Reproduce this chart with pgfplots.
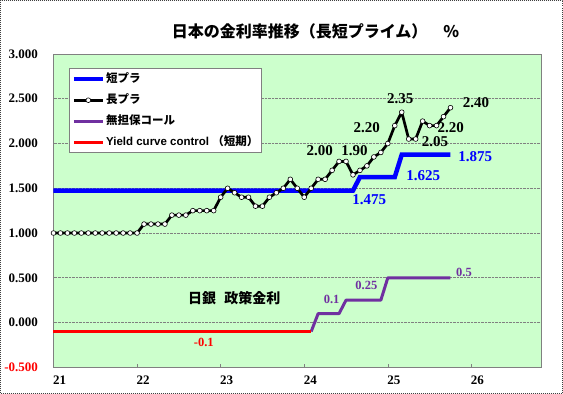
\documentclass[border=0pt]{standalone}
\usepackage{pgfplots}
\pgfplotsset{compat=1.18}
\usepackage{fontspec}
\setmainfont{Liberation Serif}
\setsansfont{Liberation Sans}
\newfontfamily\jp{Noto Sans CJK JP}
\definecolor{bgreen}{HTML}{CCFFCC}
\definecolor{purp}{HTML}{7030A0}
\definecolor{bblue}{HTML}{0000FF}
\definecolor{rred}{HTML}{FF0000}
\definecolor{axgray}{HTML}{808080}
\newcommand\fs[1]{\fontsize{#1}{#1}\selectfont}
\begin{document}
\begin{tikzpicture}[x=1pt,y=1pt]
\fill[white] (0,0) rectangle (563,394);
\draw[black!75, densely dotted, line width=1pt] (0.5,0.5) rectangle (562.5,393.5);
\node[font=\jp\bfseries\fs{16}] at (315.5,362.4) {日本の金利率推移（長短プライム）　\%};
\begin{axis}[
  at={(53.5pt,26.7pt)}, anchor=south west,
  scale only axis, width=487.5pt, height=313.3pt,
  xmin=21, xmax=26.833, ymin=-0.5, ymax=3,
  axis background/.style={fill=bgreen},
  axis line style={axgray, line width=0.8pt},
  xtick={21,22,23,24,25,26}, xticklabels={21,22,23,24,25,26},
  ytick={-0.5,0,0.5,1,1.5,2,2.5,3},
  yticklabels={\textcolor{rred}{-0.500},0.000,0.500,1.000,1.500,2.000,2.500,3.000},
  tick style={axgray, line width=0.6pt},
  major tick length=3pt,
  xtick pos=bottom, ytick pos=left,
  ymajorgrids, grid style={densely dotted, line width=0.6pt, gray},
  xticklabel style={font=\bfseries\fs{13}, anchor=north west, xshift=-4pt, yshift=-5.5pt},
  yticklabel style={font=\bfseries\fs{13}, anchor=east, xshift=-12pt},
  clip=false,
  legend style={at={(0.0324,0.954)}, anchor=north west, draw=axgray, fill=white, line width=0.6pt,
    inner xsep=2pt, inner ysep=4pt, row sep=8pt, font=\bfseries\fs{11.5},
    nodes={inner sep=1pt, text height=8.5pt, text depth=2.5pt}},
  legend cell align=left,
  legend image code/.code={\draw[mark repeat=2,mark phase=2,#1] plot coordinates {(0pt,0pt) (14.5pt,0pt) (29pt,0pt)};},
]
\addplot[bblue, line width=4.5pt] coordinates {
(21.0000,1.475) (24.5833,1.475) (24.6667,1.625) (25.0833,1.625) (25.1667,1.875) (25.7500,1.875)};
\addlegendentry{\jp 短プラ}
\addplot[black, line width=2.7pt, line join=round, mark=*, mark size=2.4pt,
  mark options={fill=white, draw=black, line width=0.6pt}] coordinates {
(21.0000,1.00) (21.0833,1.00) (21.1667,1.00) (21.2500,1.00) (21.3333,1.00) (21.4167,1.00)
(21.5000,1.00) (21.5833,1.00) (21.6667,1.00) (21.7500,1.00) (21.8333,1.00) (21.9167,1.00)
(22.0000,1.00) (22.0833,1.10) (22.1667,1.10) (22.2500,1.10) (22.3333,1.10) (22.4167,1.20)
(22.5000,1.20) (22.5833,1.20) (22.6667,1.25) (22.7500,1.25) (22.8333,1.25) (22.9167,1.25)
(23.0000,1.40) (23.0833,1.50) (23.1667,1.45) (23.2500,1.40) (23.3333,1.40) (23.4167,1.30)
(23.5000,1.30) (23.5833,1.40) (23.6667,1.45) (23.7500,1.50) (23.8333,1.60) (23.9167,1.50)
(24.0000,1.40) (24.0833,1.50) (24.1667,1.60) (24.2500,1.60) (24.3333,1.70) (24.4167,1.80)
(24.5000,1.80) (24.5833,1.65) (24.6667,1.70) (24.7500,1.75) (24.8333,1.85) (24.9167,1.90)
(25.0000,2.00) (25.0833,2.20) (25.1667,2.35) (25.2500,2.05) (25.3333,2.05) (25.4167,2.25)
(25.5000,2.20) (25.5833,2.20) (25.6667,2.30) (25.7500,2.40)};
\addlegendentry{\jp 長プラ}
\addplot[purp, line width=3pt, line join=round] coordinates {
(24.0833,-0.1) (24.1667,0.1) (24.4167,0.1) (24.5000,0.25) (24.9167,0.25) (25.0000,0.5) (25.7500,0.5)};
\addlegendentry{\jp 無担保コール}
\addplot[rred, line width=3pt] coordinates {(21.0000,-0.1) (24.0833,-0.1)};
\addlegendentry{\sffamily Yield curve control {\jp （短期）}}
% labels
\node[font=\bfseries\fs{15}] at (axis cs:25.149,2.50) {2.35};
\node[font=\bfseries\fs{15}] at (axis cs:24.747,2.173) {2.20};
\node[font=\bfseries\fs{15}] at (axis cs:24.185,1.922) {2.00};
\node[font=\bfseries\fs{15}] at (axis cs:24.601,1.922) {1.90};
\node[font=\bfseries\fs{15}] at (axis cs:25.565,2.017) {2.05};
\node[font=\bfseries\fs{15}] at (axis cs:25.752,2.173) {2.20};
\node[font=\bfseries\fs{15}] at (axis cs:26.055,2.452) {2.40};
\node[font=\bfseries\fs{15}, text=bblue] at (axis cs:26.047,1.857) {1.875};
\node[font=\bfseries\fs{15}, text=bblue] at (axis cs:25.425,1.645) {1.625};
\node[font=\bfseries\fs{15}, text=bblue] at (axis cs:24.778,1.378) {1.475};
\node[font=\bfseries\fs{12.5}, text=purp] at (axis cs:25.911,0.555) {0.5};
\node[font=\bfseries\fs{12.5}, text=purp] at (axis cs:24.743,0.41) {0.25};
\node[font=\bfseries\fs{12.5}, text=purp] at (axis cs:24.328,0.257) {0.1};
\node[font=\bfseries\fs{12.5}, text=rred] at (axis cs:22.798,-0.218) {-0.1};
\node[font=\jp\bfseries\fs{14}] at (axis cs:23.163,0.270) {日銀\hspace{0.6em}政策金利};
\end{axis}
\end{tikzpicture}
\end{document}
